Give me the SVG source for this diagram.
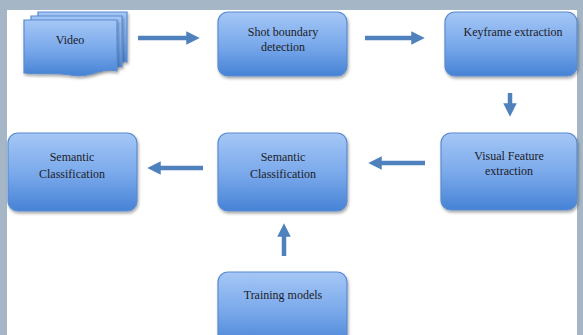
<svg xmlns="http://www.w3.org/2000/svg" width="583" height="335" viewBox="0 0 583 335">
<defs>
<linearGradient id="g" x1="0" y1="0" x2="0" y2="1">
<stop offset="0" stop-color="#a5c7f6"/>
<stop offset="0.55" stop-color="#77a7ea"/>
<stop offset="1" stop-color="#4682d5"/>
</linearGradient>
<filter id="sh" x="-10%" y="-10%" width="125%" height="130%">
<feGaussianBlur in="SourceAlpha" stdDeviation="1.5"/>
<feOffset dx="1" dy="2"/>
<feComponentTransfer><feFuncA type="linear" slope="0.35"/></feComponentTransfer>
<feMerge><feMergeNode/><feMergeNode in="SourceGraphic"/></feMerge>
</filter>
<marker id="ah" viewBox="0 0 10 10" refX="5" refY="5" markerWidth="3" markerHeight="3.2" orient="auto" markerUnits="strokeWidth">
<path d="M0,0 L10,5 L0,10 z" fill="#4f81bd"/>
</marker>
</defs>
<style>
.box{fill:url(#g);stroke:#5a8bcf;stroke-width:1.2;filter:url(#sh)}
.t{font-family:"Liberation Serif","Times New Roman",serif;font-size:12px;fill:#1c1c28;text-anchor:middle}
.c{stroke:#4f81bd;stroke-width:4.5;fill:none;marker-end:url(#ah)}
</style>
<rect x="0" y="0" width="583" height="335" fill="#ffffff"/>
<rect x="0" y="0" width="583" height="10" fill="#a5b6c6"/>
<rect x="0" y="0" width="7" height="335" fill="#a5b6c6"/>
<rect x="577" y="0" width="6" height="335" fill="#a5b6c6"/>

<g id="video">
<path class="box" d="M38,12 H127 V62 C110,58 100,70 80,66 C62,63 52,66 38,64 Z"/>
<path class="box" d="M31,16 H122 V67 C105,63 95,75 75,71 C57,68 47,71 31,69 Z"/>
<path class="box" d="M24,20 H117 V71 C100,67 90,79 70,75 C52,72 42,75 24,73 Z"/>
<text class="t" x="70" y="44">Video</text>
</g>
<g id="shot">
<rect class="box" x="218" y="12" width="129" height="64" rx="10"/>
<text class="t" x="283" y="36">Shot boundary</text>
<text class="t" x="283" y="51">detection</text>
</g>
<g id="keyframe">
<rect class="box" x="445" y="12" width="132" height="64" rx="10"/>
<text class="t" x="513" y="36">Keyframe extraction</text>
</g>
<g id="visual">
<rect class="box" x="441" y="133" width="136" height="77" rx="10"/>
<text class="t" x="509" y="160">Visual Feature</text>
<text class="t" x="509" y="175">extraction</text>
</g>
<g id="semantic2">
<rect class="box" x="218" y="133" width="129" height="78" rx="10"/>
<text class="t" x="283" y="161">Semantic</text>
<text class="t" x="283" y="178">Classification</text>
</g>
<g id="semantic1">
<rect class="box" x="8" y="133" width="129" height="78" rx="10"/>
<text class="t" x="72" y="161">Semantic</text>
<text class="t" x="72" y="178">Classification</text>
</g>
<g id="training">
<rect class="box" x="218" y="272" width="129" height="75" rx="10"/>
<text class="t" x="283" y="299">Training models</text>
</g>
<g id="connectors">
<line class="c" x1="138" y1="38" x2="193" y2="38"/>
<line class="c" x1="365" y1="38" x2="418" y2="38"/>
<line class="c" x1="510" y1="93" x2="510" y2="110"/>
<line class="c" x1="425" y1="163" x2="375" y2="163"/>
<line class="c" x1="203" y1="168" x2="154" y2="168"/>
<line class="c" x1="284" y1="256" x2="284" y2="230"/>
</g>
</svg>
